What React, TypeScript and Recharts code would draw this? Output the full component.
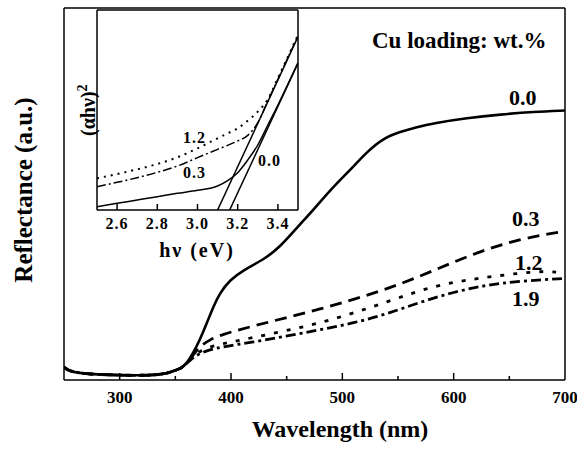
import React from "react";
import { LineChart, Line, XAxis, YAxis } from "recharts";

const FONT = '"Liberation Serif", "Times New Roman", serif';

// main plot: reflectance (a.u.) vs wavelength (nm)
// shared flat part (all four samples overlap below ~360 nm)
const baseWl = [250, 255, 265, 280, 300, 320, 340, 350, 355, 360];
const baseR = [0.4, 0.27, 0.21, 0.17, 0.15, 0.14, 0.17, 0.3, 0.36, 0.5];

// 0.0 wt.%
const wl00 = [366, 372, 378, 384, 390, 399, 411, 429, 444, 459, 474, 489, 507, 522, 537, 552, 567, 582, 612, 642, 672, 700];
const r00 = [0.83, 1.24, 1.73, 2.26, 2.69, 3.09, 3.4, 3.71, 4.11, 4.7, 5.26, 5.87, 6.49, 7.05, 7.48, 7.67, 7.82, 7.94, 8.1, 8.21, 8.29, 8.33];

// 0.3 wt.%
const wl03 = [366, 372, 381, 390, 420, 450, 480, 510, 540, 570, 600, 630, 660, 690, 700];
const r03 = [0.77, 1.05, 1.24, 1.39, 1.67, 1.93, 2.19, 2.49, 2.81, 3.21, 3.65, 4.05, 4.36, 4.54, 4.61];

// 1.2 wt.%
const wl12 = [366, 375, 390, 420, 450, 480, 510, 540, 570, 600, 630, 660, 684, 700];
const r12 = [0.74, 0.96, 1.11, 1.31, 1.53, 1.76, 2.07, 2.41, 2.78, 3.03, 3.18, 3.31, 3.37, 3.31];

// 1.9 wt.%
const wl19 = [366, 375, 390, 420, 450, 480, 510, 540, 570, 600, 630, 660, 700];
const r19 = [0.71, 0.87, 1.02, 1.17, 1.36, 1.55, 1.76, 2.04, 2.41, 2.72, 2.94, 3.06, 3.14];

// ticks every 50 nm, labels on the hundreds
const xTicks = [300, 350, 400, 450, 500, 550, 600, 650, 700];
const yTicks = [0.5, 1.5, 2.5, 3.5, 4.5, 5.5, 6.5, 7.5, 8.5, 9.5, 10.5];

// inset: (alpha h nu)^2 vs h nu (eV)
const evGrid = [2.5, 2.6, 2.7, 2.8, 2.9, 3.0, 3.1, 3.15, 3.2, 3.25, 3.3, 3.35, 3.4, 3.45, 3.5];
const in00 = [0.1, 0.2, 0.3, 0.4, 0.5, 0.59, 0.72, 0.88, 1.12, 1.5, 1.95, 2.55, 3.15, 3.78, 4.42];
const in03 = [0.7, 0.83, 0.97, 1.13, 1.32, 1.57, 1.82, 1.94, 2.07, 2.24, 2.62, 3.27, 3.92, 4.57, 5.22];
const in12 = [0.95, 1.08, 1.22, 1.38, 1.58, 1.85, 2.15, 2.3, 2.45, 2.68, 2.95, 3.32, 3.96, 4.6, 5.26];
// tangent lines (band gap extrapolation)
const tanA_ev = [3.1, 3.5];
const tanA_v = [0, 5.2];
const tanB_ev = [3.16, 3.5];
const tanB_v = [0, 4.4];
const insetXTicks = [2.6, 2.8, 3.0, 3.2, 3.4];
const insetYTicks = [1, 2, 3, 4, 5];

const toPts = (xs: number[], ys: number[]) => xs.map((x, i) => ({ x, y: ys[i] }));

const s00 = toPts([...baseWl, ...wl00], [...baseR, ...r00]);
const s03 = toPts([...baseWl, ...wl03], [...baseR, ...r03]);
const s12 = toPts([...baseWl, ...wl12], [...baseR, ...r12]);
const s19 = toPts([...baseWl, ...wl19], [...baseR, ...r19]);

const i00 = toPts(evGrid, in00);
const i03 = toPts(evGrid, in03);
const i12 = toPts(evGrid, in12);
const iTanA = toPts(tanA_ev, tanA_v);
const iTanB = toPts(tanB_ev, tanB_v);

const axisStyle = { stroke: "#000", strokeWidth: 1.5 };

// draws the inward tick mark itself, long on the hundreds, label only there
function MainTick(props: any) {
  const { x, y, payload } = props;
  const major = payload.value % 100 === 0;
  return (
    <g>
      {payload.value < 700 && (
        <line x1={x} x2={x} y1={y} y2={y - (major ? 7 : 4)} stroke="#000" strokeWidth={1.5} />
      )}
      {major && (
        <text x={x} y={y + 22.5} textAnchor="middle" fontFamily={FONT} fontWeight="bold" fontSize={17} fill="#000">
          {payload.value}
        </text>
      )}
    </g>
  );
}

function InsetTick(props: any) {
  const { x, y, payload } = props;
  return (
    <g>
      <line x1={x} x2={x} y1={y} y2={y - 6} stroke="#000" strokeWidth={1.5} />
      <text x={x} y={y + 19} textAnchor="middle" fontFamily={FONT} fontWeight="bold" fontSize={16} letterSpacing={1} fill="#000">
        {Number(payload.value).toFixed(1)}
      </text>
    </g>
  );
}

export default function App() {
  const txt = { fontFamily: FONT, fontWeight: "bold" as const, fill: "#000" };
  return (
    <div style={{ position: "absolute", left: 0, top: 0, width: 577, height: 451, background: "#fff" }}>
      {/* main chart */}
      <div style={{ position: "absolute", left: 0, top: 0 }}>
        <LineChart width={577} height={451} margin={{ top: 7, right: 11, bottom: 70, left: 63 }}>
          <XAxis
            dataKey="x"
            type="number"
            domain={[250, 700]}
            ticks={xTicks}
            interval={0}
            height={1}
            tickSize={0}
            tickMargin={0}
            tickLine={false}
            axisLine={axisStyle}
            tick={<MainTick />}
            allowDataOverflow
          />
          <XAxis xAxisId="top" orientation="top" dataKey="x" type="number" domain={[250, 700]}
            height={1} tick={false} tickLine={false} axisLine={axisStyle} />
          <YAxis type="number" domain={[0, 11.5]} ticks={yTicks} interval={0} width={1} tick={false}
            tickSize={-8} tickLine={axisStyle} axisLine={axisStyle} allowDataOverflow />
          <YAxis yAxisId="right" orientation="right" type="number" domain={[0, 11.5]} width={1}
            tick={false} tickLine={false} axisLine={axisStyle} />
          <Line data={s19} dataKey="y" type="basis" stroke="#000" strokeWidth={2.8}
            strokeDasharray="10 4 3 4" dot={false} isAnimationActive={false} />
          <Line data={s12} dataKey="y" type="basis" stroke="#000" strokeWidth={2.8}
            strokeDasharray="4 9" dot={false} isAnimationActive={false} />
          <Line data={s03} dataKey="y" type="basis" stroke="#000" strokeWidth={2.8}
            strokeDasharray="12 7" dot={false} isAnimationActive={false} />
          <Line data={s00} dataKey="y" type="basis" stroke="#000" strokeWidth={2.6}
            dot={false} isAnimationActive={false} />
        </LineChart>
      </div>

      {/* inset */}
      <div style={{ position: "absolute", left: 80, top: 0 }}>
        <LineChart width={225} height={260} margin={{ top: 9, right: 6, bottom: 49, left: 16 }}>
          <XAxis dataKey="x" type="number" domain={[2.5, 3.5]} ticks={insetXTicks} interval={0} height={1}
            tickSize={0} tickMargin={0} tickLine={false} axisLine={axisStyle} tick={<InsetTick />} allowDataOverflow />
          <XAxis xAxisId="top" orientation="top" dataKey="x" type="number" domain={[2.5, 3.5]}
            height={1} tick={false} tickLine={false} axisLine={axisStyle} />
          <YAxis type="number" domain={[0, 6]} ticks={insetYTicks} interval={0} width={1} tick={false}
            tickSize={-5} tickLine={axisStyle} axisLine={axisStyle} allowDataOverflow />
          <YAxis yAxisId="right" orientation="right" type="number" domain={[0, 6]} width={1}
            tick={false} tickLine={false} axisLine={axisStyle} />
          <Line data={iTanA} dataKey="y" type="linear" stroke="#000" strokeWidth={1.5} dot={false} isAnimationActive={false} />
          <Line data={iTanB} dataKey="y" type="linear" stroke="#000" strokeWidth={1.5} dot={false} isAnimationActive={false} />
          <Line data={i12} dataKey="y" type="monotone" stroke="#000" strokeWidth={2}
            strokeDasharray="2 5" dot={false} isAnimationActive={false} />
          <Line data={i03} dataKey="y" type="monotone" stroke="#000" strokeWidth={1.5}
            strokeDasharray="9 3 2 3" dot={false} isAnimationActive={false} />
          <Line data={i00} dataKey="y" type="monotone" stroke="#000" strokeWidth={1.5}
            dot={false} isAnimationActive={false} />
        </LineChart>
      </div>

      {/* text */}
      <svg width={577} height={451} style={{ position: "absolute", left: 0, top: 0, pointerEvents: "none" }}>
        <text {...txt} x={32} y={190} fontSize={25} textAnchor="middle" transform="rotate(-90 32 190)">
          Reflectance (a.u.)
        </text>
        <text {...txt} x={340} y={437} fontSize={24} textAnchor="middle">Wavelength (nm)</text>
        <text {...txt} x={372} y={48} fontSize={23}>Cu loading: wt.%</text>
        <text {...txt} x={509} y={105} fontSize={22}>0.0</text>
        <text {...txt} x={512} y={226} fontSize={22}>0.3</text>
        <text {...txt} x={515} y={270} fontSize={22}>1.2</text>
        <text {...txt} x={512} y={306} fontSize={22}>1.9</text>

        <text {...txt} x={197} y={257} fontSize={20} letterSpacing={2} textAnchor="middle">hν (eV)</text>
        <text {...txt} x={95} y={136} fontSize={20} transform="rotate(-90 95 136)">
          (αhν)<tspan dy={-8} fontSize={14}>2</tspan>
        </text>
        <text {...txt} x={183} y={143} fontSize={16} letterSpacing={1}>1.2</text>
        <text {...txt} x={183} y={178} fontSize={16} letterSpacing={1}>0.3</text>
        <text {...txt} x={258} y={166} fontSize={16} letterSpacing={1}>0.0</text>
      </svg>
    </div>
  );
}
